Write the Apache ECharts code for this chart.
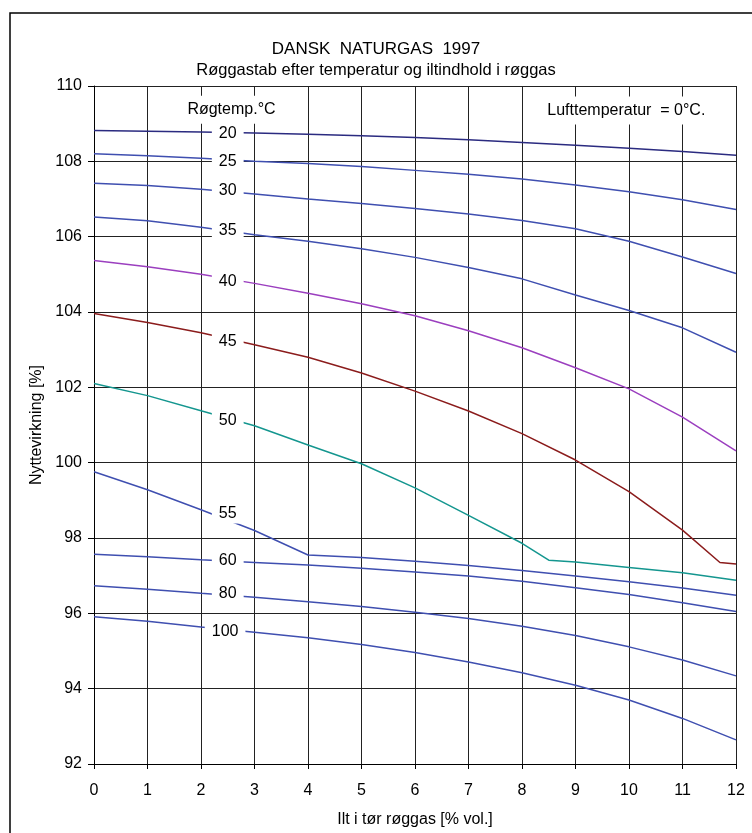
<!DOCTYPE html>
<html>
<head>
<meta charset="utf-8">
<title>Dansk Naturgas 1997</title>
<script src="https://cdn.jsdelivr.net/npm/echarts@6/dist/echarts.min.js"></script>
<style>
  html, body { margin: 0; padding: 0; background: #fff; }
  #chart { width: 752px; height: 833px; }
</style>
</head>
<body>
<div id="chart"></div>
<script>
// ilt i tør røggas [% vol.]
const oxygen = [0, 1, 2, 3, 4, 5, 6, 7, 8, 9, 10, 11, 12];
const oxygen45 = [0, 1, 2, 3, 4, 5, 6, 7, 8, 9, 10, 11, 11.7, 12];
const oxygen50 = [0, 1, 2, 3, 4, 5, 6, 7, 8, 8.5, 9, 10, 11, 12];

// nyttevirkning [%] pr. røggastemperatur
const eff20 = [108.82, 108.80, 108.78, 108.75, 108.72, 108.68, 108.63, 108.57, 108.50, 108.43, 108.35, 108.26, 108.16];
const eff25 = [108.20, 108.15, 108.08, 108.00, 107.94, 107.86, 107.76, 107.66, 107.53, 107.37, 107.19, 106.98, 106.72];
const eff30 = [107.42, 107.36, 107.26, 107.13, 107.00, 106.88, 106.75, 106.60, 106.43, 106.21, 105.88, 105.46, 105.02];
const eff35 = [106.52, 106.42, 106.25, 106.05, 105.88, 105.68, 105.45, 105.18, 104.88, 104.45, 104.04, 103.58, 102.93];
const eff40 = [105.37, 105.20, 105.00, 104.76, 104.50, 104.22, 103.90, 103.50, 103.05, 102.52, 101.96, 101.21, 100.31];
const eff45 = [103.96, 103.72, 103.45, 103.13, 102.80, 102.38, 101.90, 101.37, 100.77, 100.07, 99.23, 98.21, 97.35, 97.31];
const eff50 = [102.10, 101.78, 101.38, 100.98, 100.47, 99.97, 99.33, 98.60, 97.86, 97.41, 97.36, 97.22, 97.08, 96.88];
const eff55 = [99.76, 99.28, 98.75, 98.20, 97.55, 97.48, 97.38, 97.27, 97.14, 96.99, 96.84, 96.67, 96.48];
const eff60 = [97.57, 97.50, 97.42, 97.35, 97.28, 97.20, 97.10, 96.99, 96.85, 96.68, 96.50, 96.28, 96.05];
const eff80 = [96.73, 96.64, 96.53, 96.43, 96.31, 96.18, 96.03, 95.86, 95.66, 95.41, 95.11, 94.76, 94.34];
const eff100 = [95.91, 95.79, 95.64, 95.50, 95.35, 95.17, 94.96, 94.71, 94.42, 94.09, 93.70, 93.21, 92.64];

// kurvetekster
const temps = ['20', '25', '30', '35', '40', '45', '50', '55', '60', '80', '100'];
const tempLabelX = [2.5, 2.5, 2.5, 2.5, 2.5, 2.5, 2.5, 2.5, 2.5, 2.5, 2.45];
const tempLabelY = [108.73, 107.98, 107.23, 106.15, 104.82, 103.22, 101.11, 98.65, 97.41, 96.53, 95.51];

const notes = ['Røgtemp.°C', 'Lufttemperatur  = 0°C.'];
const noteX = [2.57, 9.95];
const noteY = [109.37, 109.35];

const xTicks = { min: 0, max: 12, step: 1 };
const yTicks = { min: 92, max: 110, step: 2 };

const FONT = 'Arial, "Liberation Sans", sans-serif';
const BLUE = '#3f4fb0';

function pairs(xs, ys) {
    return xs.map(function(x, i) { return [x, ys[i]]; });
}

function curve(name, xs, ys, color) {
    return {
        name: name,
        type: 'line',
        data: pairs(xs, ys),
        showSymbol: false,
        symbol: 'none',
        smooth: false,
        z: 3,
        lineStyle: { color: color, width: 1.5 },
        emphasis: { disabled: true }
    };
}

function textBoxes(name, texts, xs, ys, padding) {
    return {
        name: name,
        type: 'scatter',
        symbolSize: 0,
        z: 10,
        silent: true,
        itemStyle: { opacity: 1 },
        emphasis: { disabled: true },
        data: texts.map(function(t, i) {
            return { name: t, value: [xs[i], ys[i]] };
        }),
        label: {
            show: true,
            position: 'inside',
            formatter: '{b}',
            fontFamily: FONT,
            fontSize: 16,
            color: '#000',
            opacity: 1,
            textBorderWidth: 0,
            backgroundColor: '#fff',
            padding: padding
        }
    };
}

const chart = echarts.init(document.getElementById('chart'), null, { renderer: 'canvas' });

const option = {
    backgroundColor: '#fff',
    animation: false,
    textStyle: { fontFamily: FONT },
    title: [
        {
            text: 'DANSK  NATURGAS  1997',
            left: 'center',
            top: 36,
            textStyle: { fontFamily: FONT, fontSize: 17, fontWeight: 'normal', color: '#000' }
        },
        {
            text: 'Røggastab efter temperatur og iltindhold i røggas',
            left: 'center',
            top: 57,
            textStyle: { fontFamily: FONT, fontSize: 16.5, fontWeight: 'normal', color: '#000' }
        }
    ],
    graphic: [
        {
            type: 'rect',
            shape: { x: 10, y: 13, width: 800, height: 900 },
            style: { fill: 'none', stroke: '#000', lineWidth: 1.5 },
            silent: true
        }
    ],
    grid: { left: 94, right: 16, top: 86, bottom: 68 },
    xAxis: {
        type: 'value',
        min: xTicks.min,
        max: xTicks.max,
        interval: xTicks.step,
        name: 'Ilt i tør røggas [% vol.]',
        nameLocation: 'middle',
        nameGap: 48,
        nameTextStyle: { fontFamily: FONT, fontSize: 16, color: '#000' },
        axisLine: { lineStyle: { color: '#000', width: 1 } },
        axisTick: { show: true, length: 5, lineStyle: { color: '#000' } },
        axisLabel: { fontFamily: FONT, fontSize: 16, color: '#000', margin: 19 },
        splitLine: { show: true, lineStyle: { color: '#222', width: 1 } }
    },
    yAxis: {
        type: 'value',
        min: yTicks.min,
        max: yTicks.max,
        interval: yTicks.step,
        name: 'Nyttevirkning [%]',
        nameLocation: 'middle',
        nameRotate: 90,
        nameGap: 26,
        nameTextStyle: { fontFamily: FONT, fontSize: 16, color: '#000' },
        axisLine: { show: true, lineStyle: { color: '#000', width: 1 } },
        axisTick: { show: true, length: 6, lineStyle: { color: '#000' } },
        axisLabel: { fontFamily: FONT, fontSize: 16, color: '#000', margin: 12 },
        splitLine: { show: true, lineStyle: { color: '#222', width: 1 } }
    },
    series: [
        curve('20', oxygen, eff20, '#2b2b80'),
        curve('25', oxygen, eff25, BLUE),
        curve('30', oxygen, eff30, BLUE),
        curve('35', oxygen, eff35, BLUE),
        curve('40', oxygen, eff40, '#9b3fbf'),
        curve('45', oxygen45, eff45, '#8b1c1c'),
        curve('50', oxygen50, eff50, '#14968f'),
        curve('55', oxygen, eff55, BLUE),
        curve('60', oxygen, eff60, BLUE),
        curve('80', oxygen, eff80, BLUE),
        curve('100', oxygen, eff100, BLUE),
        textBoxes('temps', temps, tempLabelX, tempLabelY, [2, 7]),
        textBoxes('notes', notes, noteX, noteY, [6, 8])
    ]
};

chart.setOption(option);
</script>
</body>
</html>
